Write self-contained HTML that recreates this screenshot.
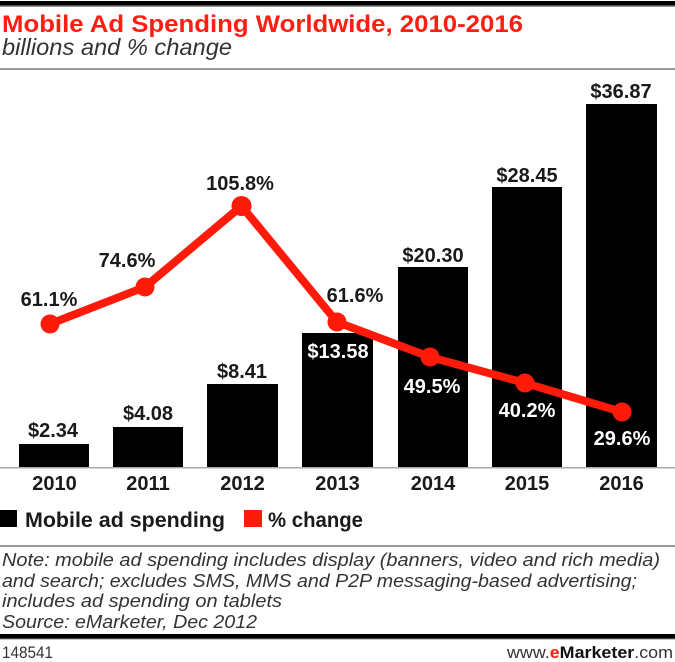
<!DOCTYPE html>
<html>
<head>
<meta charset="utf-8">
<style>
  html,body{margin:0;padding:0;background:#fff;}
  svg{display:block;}
  .b{font-family:"Liberation Sans",Arial,sans-serif;font-weight:bold;}
  .r{font-family:"Liberation Sans",Arial,sans-serif;}
</style>
</head>
<body>
<svg width="675" height="662" viewBox="0 0 675 662" xmlns="http://www.w3.org/2000/svg">
  <rect width="675" height="662" fill="#fff"/>
  <!-- top rules -->
  <rect x="0" y="1" width="675" height="4.5" fill="#000"/>
  <rect x="0" y="5.5" width="675" height="1.5" fill="#9a9a9a"/>
  <!-- title -->
  <text x="2" y="32" class="b" font-size="24" fill="#ff1e12" textLength="521" lengthAdjust="spacingAndGlyphs">Mobile Ad Spending Worldwide, 2010-2016</text>
  <text x="2" y="55" class="r" font-size="23" font-style="italic" fill="#333" textLength="230" lengthAdjust="spacingAndGlyphs">billions and % change</text>
  <rect x="0" y="68" width="675" height="2" fill="#9a9a9a"/>

  <!-- bars -->
  <g fill="#000">
    <rect x="19" y="444" width="70" height="23.5"/>
    <rect x="113" y="427" width="70" height="40.5"/>
    <rect x="207" y="384" width="71" height="83.5"/>
    <rect x="302" y="333" width="71" height="134.5"/>
    <rect x="398" y="267" width="70" height="200.5"/>
    <rect x="492" y="187" width="70" height="280.5"/>
    <rect x="586" y="104" width="71" height="363.5"/>
  </g>
  <!-- baseline -->
  <rect x="0" y="467" width="675" height="1.5" fill="#aaa"/>

  <!-- bar labels -->
  <g class="b" font-size="20" text-anchor="middle" fill="#1a1a1a">
    <text x="53" y="437">$2.34</text>
    <text x="148" y="420">$4.08</text>
    <text x="242" y="378">$8.41</text>
    <text x="338" y="358" fill="#fff">$13.58</text>
    <text x="433" y="262">$20.30</text>
    <text x="527" y="182">$28.45</text>
    <text x="621" y="98">$36.87</text>
  </g>

  <!-- line -->
  <polyline points="50,324 145,287 241.5,206 337,322 430,357 525,383 622,412" fill="none" stroke="#ff1a0a" stroke-width="8" stroke-linejoin="round"/>
  <g fill="#ff1a0a">
    <circle cx="50" cy="324" r="9.5"/>
    <circle cx="145" cy="287" r="9.5"/>
    <circle cx="241.5" cy="206" r="10"/>
    <circle cx="337" cy="322" r="9.5"/>
    <circle cx="430" cy="357" r="9.5"/>
    <circle cx="525" cy="383" r="9.5"/>
    <circle cx="622" cy="412" r="9.5"/>
  </g>

  <!-- percent labels -->
  <g class="b" font-size="20" text-anchor="middle" fill="#1a1a1a">
    <text x="49" y="306">61.1%</text>
    <text x="127" y="267">74.6%</text>
    <text x="240" y="190">105.8%</text>
    <text x="355" y="302">61.6%</text>
    <text x="432" y="393" fill="#fff">49.5%</text>
    <text x="527" y="417" fill="#fff">40.2%</text>
    <text x="622" y="445" fill="#fff">29.6%</text>
  </g>

  <!-- year labels -->
  <g class="b" font-size="20" text-anchor="middle" fill="#1a1a1a">
    <text x="54.5" y="490">2010</text>
    <text x="148" y="490">2011</text>
    <text x="242.5" y="490">2012</text>
    <text x="337.5" y="490">2013</text>
    <text x="433" y="490">2014</text>
    <text x="527" y="490">2015</text>
    <text x="621.5" y="490">2016</text>
  </g>

  <!-- legend -->
  <rect x="0" y="510" width="17" height="17" fill="#000"/>
  <text x="25" y="527" class="b" font-size="21" fill="#1a1a1a" textLength="200" lengthAdjust="spacingAndGlyphs">Mobile ad spending</text>
  <rect x="244" y="510" width="18" height="17" fill="#ff1a0a"/>
  <text x="268" y="527" class="b" font-size="21" fill="#1a1a1a" textLength="95" lengthAdjust="spacingAndGlyphs">% change</text>

  <!-- footer -->
  <rect x="0" y="545" width="675" height="2" fill="#9a9a9a"/>
  <g class="r" font-size="18" font-style="italic" fill="#333">
    <text x="2" y="566" textLength="658" lengthAdjust="spacingAndGlyphs">Note: mobile ad spending includes display (banners, video and rich media)</text>
    <text x="2" y="587" textLength="635" lengthAdjust="spacingAndGlyphs">and search; excludes SMS, MMS and P2P messaging-based advertising;</text>
    <text x="2" y="607" textLength="280" lengthAdjust="spacingAndGlyphs">includes ad spending on tablets</text>
    <text x="2" y="628" textLength="255" lengthAdjust="spacingAndGlyphs">Source: eMarketer, Dec 2012</text>
  </g>
  <rect x="0" y="634" width="675" height="4.5" fill="#000"/>
  <rect x="0" y="638.5" width="675" height="1" fill="#888"/>
  <text x="2" y="658" class="r" font-size="17" fill="#333" textLength="51" lengthAdjust="spacingAndGlyphs">148541</text>
  <text x="507" y="658" class="r" font-size="17" fill="#333" textLength="166" lengthAdjust="spacingAndGlyphs">www.<tspan fill="#ff1a0a" font-weight="bold">e</tspan><tspan font-weight="bold" fill="#111">Marketer</tspan>.com</text>
</svg>
</body>
</html>
